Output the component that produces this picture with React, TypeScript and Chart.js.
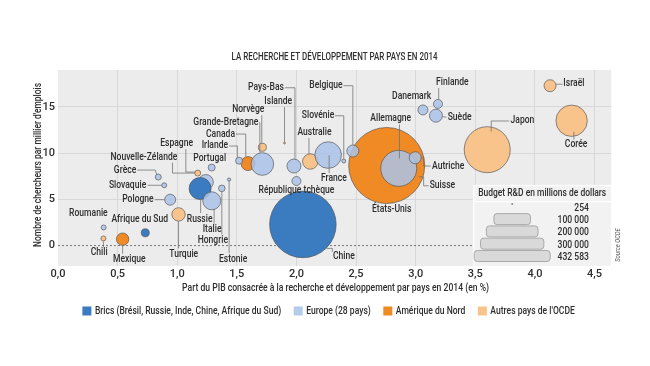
import React, { useEffect, useRef } from 'react';
import { Chart, registerables } from 'chart.js';

Chart.register(...registerables);

// ---------- data ----------
const countries = [
  'Roumanie', 'Chili', 'Mexique', 'Afrique du Sud', 'Turquie', 'Pologne', 'Slovaquie', 'Grèce',
  'Nouvelle-Zélande', 'Espagne', 'Russie', 'Italie', 'Portugal', 'Hongrie', 'Estonie', 'Irlande',
  'Canada', 'Grande-Bretagne', 'Norvège', 'Islande', 'Pays-Bas', 'République tchèque', 'Chine',
  'Australie', 'France', 'Slovénie', 'Belgique', 'États-Unis', 'Allemagne', 'Autriche', 'Suisse',
  'Danemark', 'Finlande', 'Suède', 'Japon', 'Corée', 'Israël',
];
// B = Brics, E = Europe (28), N = Amérique du Nord, A = Autres pays de l'OCDE
const groups = [
  'E', 'A', 'N', 'B', 'A', 'E', 'E', 'E',
  'A', 'E', 'B', 'E', 'E', 'E', 'E', 'E',
  'N', 'E', 'A', 'A', 'E', 'E', 'B',
  'A', 'E', 'E', 'E', 'N', 'E', 'E', 'A',
  'E', 'E', 'E', 'A', 'A', 'A',
];
// Part du PIB consacrée à la R&D (%)
const gdpShare = [
  0.383, 0.381, 0.542, 0.732, 1.011, 0.941, 0.891, 0.841,
  1.172, 1.240, 1.192, 1.290, 1.289, 1.374, 1.435, 1.519,
  1.594, 1.714, 1.714, 1.900, 1.979, 2.000, 2.054,
  2.116, 2.266, 2.397, 2.473, 2.757, 2.858, 2.996, 3.025,
  3.061, 3.187, 3.170, 3.600, 4.308, 4.127,
];
// Chercheurs par millier d'emplois
const researchers = [
  1.97, 0.78, 0.70, 1.39, 3.38, 4.97, 6.53, 7.42,
  7.85, 6.88, 6.18, 4.85, 8.45, 6.20, 7.15, 9.19,
  8.88, 8.83, 10.64, 11.10, 8.61, 6.99, 2.30,
  9.10, 9.80, 9.15, 10.24, 8.67, 8.36, 9.51, 7.45,
  14.68, 15.33, 14.06, 10.38, 13.51, 17.30,
];
// Budget R&D (millions de dollars)
const budgets = [
  1870, 1870, 11500, 4800, 13400, 9060, 1870, 2700,
  2700, 16900, 36300, 24300, 3670, 3260, 770, 3670,
  14700, 38300, 4800, 254, 14700, 6070, 332000,
  17800, 53000, 1200, 10800, 432583, 97100, 10800, 3700,
  7500, 6070, 12700, 158500, 73800, 10800,
];
const drawnUnder = ['Espagne', 'Suisse'];

const xTicks = [0, 0.5, 1, 1.5, 2, 2.5, 3, 3.5, 4, 4.5];
const yTicks = [0, 5, 10, 15];
const sizeLegendValues = [254, 100000, 200000, 300000, 432583];
const sizeLegendLabels = ['254', '100 000', '200 000', '300 000', '432 583'];

const groupKeys = ['B', 'E', 'N', 'A'];
const groupNames = [
  'Brics (Brésil, Russie, Inde, Chine, Afrique du Sud)',
  'Europe (28 pays)',
  'Amérique du Nord',
  "Autres pays de l'OCDE",
];

// ---------- label layout (pixel offsets from bubble centre) ----------
const labelOffsets: [number, number, string][] = [
  [-15.3, -13.5, 'center'], [-4.3, 14.4, 'center'], [6.7, 20, 'center'], [-5.5, -13.4, 'center'],
  [5.2, 39.7, 'center'], [-16.5, 0, 'right'], [-18, 0, 'right'], [-22, -7, 'right'],
  [-53.8, -15.7, 'center'], [-29.2, -38.7, 'center'], [-0.5, 30.5, 'center'], [0.3, 28.6, 'center'],
  [-2, -9.2, 'center'], [-9, 51.7, 'center'], [4, 79.5, 'center'], [-11, -14.7, 'right'],
  [-13, -29.5, 'right'], [-4, -41.3, 'right'], [-14.1, -37.3, 'center'], [-6.3, -42, 'center'],
  [-10, -78.3, 'right'], [0, 9, 'center'], [41, 32.4, 'center'],
  [4.2, -29.2, 'center'], [5.7, 23.3, 'center'], [-9.5, -45.3, 'right'], [-10.2, -65.3, 'right'],
  [5, 43.5, 'center'], [-8, -50, 'center'], [16.8, 8.3, 'left'], [11, 9, 'left'],
  [-11.3, -13.3, 'center'], [14.4, -21.3, 'center'], [11.7, 1.6, 'left'], [23.3, -28.7, 'left'],
  [4.5, 24.2, 'center'], [13.3, -2, 'left'],
];
const leaders: number[][][] = [
  [], [[0, 3], [0, 8.5]], [[0, 6], [0, 14.5]], [],
  [[0, 6.7], [0, 34]], [[-15.5, 0], [-5.5, 0]], [[-16.5, 0], [-2.5, 0]], [[-21, -7], [-3, -7], [-1.5, -2.5]],
  [[-25.2, -10.5], [-25.2, 0], [-3, 0]], [[-20, -33], [-20, -10], [-11, -10]], [[0.5, 11], [0.5, 24.5]], [[2.3, 8], [2.3, 23]],
  [], [[0, 3.3], [0, 46]], [[0, 1.6], [0, 73.5]], [[-10, -14.7], [-1.7, -14.7], [-1.7, -3.3]],
  [[-12, -29.5], [-2.3, -29.5], [-2.3, -7]], [[-3.5, -41.3], [-2.5, -41.3], [-2.5, -11.2]], [[-0.6, -32], [-0.6, -4]], [[0, -36], [0, -1]],
  [[-9, -78.3], [1, -78.3], [1, -7]], [], [[23.5, 24], [29.5, 24], [29.5, 27.5]],
  [[-1.3, -23.5], [-1.3, -7.7]], [[1, 0], [1, 18]], [[-9, -45.3], [0, -45.3], [0, -2]], [[-9.5, -65.3], [0, -65.3], [0, -6]],
  [], [[0.7, -44], [0.7, -10]], [[6, 0], [8.5, 0], [8.5, 8.3], [15.5, 8.3]], [[0, 0], [5, 0], [5, 9], [10, 9]],
  [], [[0.7, -16], [0.7, -4.5]], [[6.5, 1], [10.5, 1.5]], [[22, -28.7], [4, -28.7], [4, -18]],
  [[2.3, 11], [2.3, 19]], [[6, -1.5], [12.5, -1.5]],
];

// ---------- styles ----------
const FILL: Record<string, string> = {
  B: '#3b7cc0',
  E: 'rgba(170,195,233,0.85)',
  N: '#f08a25',
  A: '#f9c38c',
};
const LEGEND_FILL: Record<string, string> = { B: '#3b7cc0', E: '#b4cbec', N: '#f08a25', A: '#f9c38c' };
const PLOT_BG = '#ececec';
const GRID = '#d8d8d8';
const TEXT = '#2e2e2e';
const R_MAX = 38;

function fontExists(name: string) {
  const c = document.createElement('canvas').getContext('2d')!;
  const s = 'abcdefghijklmnopqrstuvwxyzABCDEFG0123456789';
  c.font = '20px monospace';
  const a = c.measureText(s).width;
  c.font = `20px "${name}", monospace`;
  const b = c.measureText(s).width;
  return Math.abs(a - b) > 0.5;
}

export default function App() {
  const ref = useRef<HTMLCanvasElement>(null);

  useEffect(() => {
    document.body.style.margin = '0';
    const FAM = fontExists('Liberation Sans Narrow') ? '"Liberation Sans Narrow"' : 'Roboto';
    const font = (size: number, extra = '') => `${extra} ${size}px ${FAM}, sans-serif`.trim();
    Chart.defaults.font.family = FAM;

    const maxBudget = Math.max(...budgets);
    const rOf = (b: number) => R_MAX * Math.sqrt(b / maxBudget);

    const mctx = document.createElement('canvas').getContext('2d')!;
    const fitSx = (s: string, f: string, target: number) => {
      mctx.font = f;
      return Math.min(1.15, target / mctx.measureText(s).width);
    };
    const LABEL_FONT = font(10, '500');
    const LSX = fitSx('Grande-Bretagne', LABEL_FONT, 65);

    const txt = (ctx: CanvasRenderingContext2D, s: string, x: number, y: number, align: string, sx: number, f: string, color = TEXT, rot = 0) => {
      ctx.save();
      ctx.font = f;
      ctx.fillStyle = color;
      ctx.textBaseline = 'middle';
      ctx.textAlign = align as CanvasTextAlign;
      ctx.translate(x, y);
      if (rot) ctx.rotate(rot);
      ctx.scale(sx, 1);
      ctx.fillText(s, 0, 0);
      ctx.restore();
    };

    const point = (i: number) => ({ x: gdpShare[i], y: researchers[i], r: rOf(budgets[i]), i });
    const idx = countries.map((_, i) => i);
    const under = idx.filter((i) => drawnUnder.includes(countries[i]));
    const mk = (key: string, order: number) => {
      const ids = idx.filter((i) => groups[i] === key && !drawnUnder.includes(countries[i]));
      return {
        label: groupNames[groupKeys.indexOf(key)],
        data: ids.map(point),
        backgroundColor: FILL[key],
        borderColor: 'rgba(85,85,85,0.85)',
        borderWidth: 0.8,
        hoverRadius: 0,
        order,
      };
    };
    const datasets: any[] = [
      {
        label: 'under',
        data: under.map(point),
        backgroundColor: under.map((i) => FILL[groups[i]]),
        borderColor: 'rgba(85,85,85,0.85)',
        borderWidth: 0.8,
        hoverRadius: 0,
        order: 9,
      },
      mk('N', 6),
      mk('A', 5),
      mk('B', 4),
      mk('E', 3),
    ];

    const decor = {
      id: 'decor',
      beforeDraw(chart: any) {
        const { ctx, chartArea: a } = chart;
        ctx.save();
        ctx.fillStyle = '#ffffff';
        ctx.fillRect(0, 0, chart.width, chart.height);
        ctx.fillStyle = PLOT_BG;
        ctx.fillRect(a.left, a.top, a.right - a.left, a.bottom - a.top);
        ctx.restore();
      },
      beforeDatasetsDraw(chart: any) {
        const { ctx, chartArea: a, scales } = chart;
        // zero line
        const y0 = scales.y.getPixelForValue(0);
        ctx.save();
        ctx.strokeStyle = '#5a5a5a';
        ctx.lineWidth = 0.8;
        ctx.setLineDash([2, 2]);
        ctx.beginPath();
        ctx.moveTo(a.left, y0);
        ctx.lineTo(a.right, y0);
        ctx.stroke();
        ctx.restore();

        // size legend box
        const bw = 138, bh = 81;
        const bx = a.right - bw, by = a.bottom - bh;
        ctx.save();
        ctx.fillStyle = '#f2f2f2';
        ctx.fillRect(bx, by, bw, bh);
        ctx.strokeStyle = '#ffffff';
        ctx.lineWidth = 1.2;
        ctx.strokeRect(bx + 0.5, by + 0.5, bw, bh);
        ctx.beginPath();
        ctx.moveTo(bx, by + 16.7);
        ctx.lineTo(bx + bw, by + 16.7);
        ctx.stroke();
        const hdr = 'Budget R&D en millions de dollars';
        txt(ctx, hdr, bx + bw / 2, by + 8.5, 'center', fitSx(hdr, font(10, '500'), 128), font(10, '500'));
        const cx = bx + 39;
        sizeLegendValues.forEach((v, k) => {
          const rowY = by + 23.3 + k * 12.3;
          const r = rOf(v);
          ctx.fillStyle = '#d9d9d9';
          ctx.strokeStyle = '#9a9a9a';
          ctx.lineWidth = 0.8;
          if (k === 0) {
            ctx.beginPath();
            ctx.arc(cx, rowY - 4.3, Math.max(r, 0.9), 0, Math.PI * 2);
            ctx.fillStyle = '#888';
            ctx.fill();
          } else {
            ctx.beginPath();
            ctx.roundRect(cx - r, rowY - 1.5 - 5.5, 2 * r, 11, 3);
            ctx.fill();
            ctx.stroke();
          }
          txt(ctx, sizeLegendLabels[k], bx + bw - 22.3, rowY, 'right', LSX, LABEL_FONT);
        });
        ctx.restore();
      },
      afterDatasetsDraw(chart: any) {
        const { ctx, scales } = chart;
        ctx.save();
        ctx.strokeStyle = '#6e6e6e';
        ctx.lineWidth = 0.75;
        countries.forEach((name, i) => {
          const px = scales.x.getPixelForValue(gdpShare[i]);
          const py = scales.y.getPixelForValue(researchers[i]);
          const path = leaders[i];
          if (path.length) {
            ctx.beginPath();
            path.forEach(([dx, dy], k) => {
              if (k === 0) ctx.moveTo(px + dx, py + dy);
              else ctx.lineTo(px + dx, py + dy);
            });
            ctx.stroke();
          }
          const [dx, dy, al] = labelOffsets[i];
          txt(ctx, name, px + dx, py + dy, al, LSX, LABEL_FONT);
        });
        ctx.restore();
      },
      afterDraw(chart: any) {
        const { ctx, chartArea: a } = chart;
        const midX = (a.left + a.right) / 2;
        const title = 'LA RECHERCHE ET DÉVELOPPEMENT PAR PAYS EN 2014';
        txt(ctx, title, midX, 57.5, 'center', fitSx(title, font(10.5, '500'), 206), font(10.5, '500'));
        const xt = 'Part du PIB consacrée à la recherche et développement par pays en 2014 (en %)';
        txt(ctx, xt, midX + 1, a.bottom + 22, 'center', fitSx(xt, font(10, '500'), 307), font(10, '500'));
        const yt = "Nombre de chercheurs par millier d'emplois";
        txt(ctx, yt, 38, (a.top + a.bottom) / 2 - 3, 'center', fitSx(yt, font(10, '500'), 164), font(10, '500'), TEXT, -Math.PI / 2);
        // legend
        ctx.save();
        ctx.font = LABEL_FONT;
        const gap = 12.5, box = 9, tgap = 3.5;
        const widths = groupNames.map((g) => ctx.measureText(g).width * LSX);
        const total = widths.reduce((s, w) => s + box + tgap + w, 0) + gap * (groupNames.length - 1);
        let x = midX - 6 - total / 2;
        const ly = a.bottom + 45;
        groupKeys.forEach((k, j) => {
          ctx.fillStyle = LEGEND_FILL[k];
          ctx.fillRect(x, ly - box / 2, box, box);
          txt(ctx, groupNames[j], x + box + tgap, ly, 'left', LSX, LABEL_FONT);
          x += box + tgap + widths[j] + gap;
        });
        ctx.restore();
        // source
        txt(ctx, 'Source OCDE', a.right + 7.5, a.bottom - 21, 'center', 0.9, font(6.5, 'italic'), '#555', -Math.PI / 2);
      },
    };

    const fmt = (v: number) => v.toFixed(1).replace('.', ',');

    const chart = new Chart(ref.current!, {
      type: 'bubble',
      data: { datasets },
      options: {
        responsive: false,
        animation: false,
        events: [],
        layout: { padding: { top: 70, right: 37, bottom: 72, left: 0 } },
        plugins: { legend: { display: false }, tooltip: { enabled: false }, title: { display: false } },
        scales: {
          x: {
            type: 'linear',
            min: 0,
            max: 4.64,
            afterFit: (s: any) => { s.height = 28; },
            afterBuildTicks: (s: any) => { s.ticks = xTicks.map((v) => ({ value: v })); },
            grid: {
              color: (c: any) => (c.tick && c.tick.value === 0 ? 'rgba(0,0,0,0)' : GRID),
              drawTicks: false,
              lineWidth: 1,
            },
            border: { display: false },
            ticks: {
              padding: 2,
              color: TEXT,
              font: { size: 11, family: FAM, weight: '500' },
              maxRotation: 0,
              autoSkip: false,
              callback: (v: any) => fmt(Number(v)),
            },
          },
          y: {
            type: 'linear',
            min: -2.2,
            max: 19,
            afterFit: (s: any) => { s.width = 58; },
            afterBuildTicks: (s: any) => { s.ticks = yTicks.map((v) => ({ value: v })); },
            grid: {
              color: (c: any) => (c.tick && c.tick.value === 0 ? 'rgba(0,0,0,0)' : GRID),
              drawTicks: false,
              lineWidth: 1,
            },
            border: { display: false },
            ticks: {
              padding: 3,
              color: TEXT,
              font: { size: 11, family: FAM, weight: '500' },
              autoSkip: false,
              callback: (v: any) => String(v),
            },
          },
        },
      },
      plugins: [decor],
    } as any);

    return () => chart.destroy();
  }, []);

  return (
    <div style={{ position: 'absolute', left: 0, top: 0, width: 650, height: 366, background: '#fff' }}>
      <canvas ref={ref} width={650} height={366} style={{ display: 'block', width: 650, height: 366 }} />
    </div>
  );
}
